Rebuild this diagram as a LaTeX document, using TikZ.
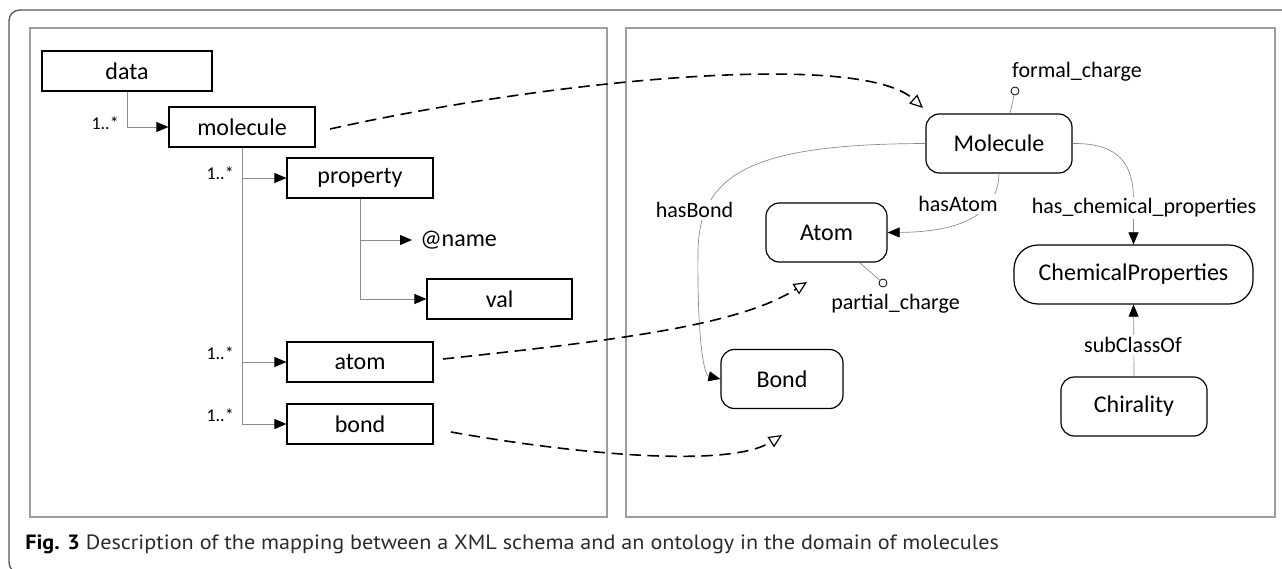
\documentclass[tikz,border=0pt]{standalone}
\usepackage{fontspec}
\setmainfont{Carlito}
\newfontfamily\capfont{PT Sans}
\usetikzlibrary{arrows.meta,calc}
\definecolor{conn}{HTML}{8C8C8C}
\definecolor{ogray}{HTML}{8A8A8A}
\definecolor{panelc}{HTML}{9E9E9E}
\definecolor{framec}{HTML}{555555}
\definecolor{captext}{HTML}{2B2B2B}
\begin{document}
\begin{tikzpicture}[x=0.75pt,y=-0.75pt,
  nodefont/.style={font=\fontsize{18}{21}\selectfont},
  xbox/.style={draw=black,line width=0.9pt,minimum width=109.5pt,minimum height=30pt,inner sep=0pt,nodefont},
  obox/.style={draw=black,line width=0.9pt,rounded corners=10pt,minimum height=44.25pt,inner sep=0pt,nodefont},
  mult/.style={inner sep=0pt,font=\fontsize{13.5}{16}\selectfont,anchor=east},
  tree/.style={draw=conn,line width=0.6pt,-{Triangle[length=9pt,width=7.5pt,color=black]}},
  oedge/.style={draw=ogray,line width=0.5pt,-{Triangle[length=9pt,width=7.5pt,color=black]}},
  oline/.style={draw=ogray,line width=0.5pt},
  elabel/.style={fill=white,inner sep=1.5pt,font=\fontsize{16.5}{19}\selectfont},
  plabel/.style={inner sep=0pt,font=\fontsize{16.5}{19}\selectfont},
  attr/.style={circle,draw=black,fill=white,line width=0.6pt,minimum size=6pt,inner sep=0pt},
  map/.style={draw=black,line width=1.2pt,dash pattern=on 8.5pt off 5pt,-{Triangle[open,length=10pt,width=9pt,line width=0.9pt]}},
  panel/.style={draw=panelc,line width=1pt}
]
\clip (0,0) rectangle (1282,568);
\fill[white] (0,0) rectangle (1282,568);
% outer frame and panels
\draw[draw=framec,line width=1pt,rounded corners=8pt] (9,10) rectangle (1300,573);
\draw[panel] (30,28) rectangle (607,517);
\draw[panel] (626,28) rectangle (1275,517);

% ---------- XML schema (left) ----------
\node[xbox,minimum width=127.5pt] (data) at (127,71) {data};
\node[xbox] (molecule) at (242,127) {molecule};
\node[xbox] (property) at (360,178) {property};
\node[xbox,minimum width=108.75pt] (val) at (499.5,299) {val};
\node[xbox] (atom) at (360,362) {atom};
\node[xbox] (bond) at (360,424) {bond};
\node[nodefont,anchor=west,inner xsep=6pt,inner ysep=0pt] (name) at (412,240) {@name};

\draw[tree] (data.south) |- (molecule.west);
\draw[tree] (molecule.south) |- (property.west);
\draw[tree] (molecule.south) |- (atom.west);
\draw[tree] (molecule.south) |- (bond.west);
\draw[tree] (property.south) |- (name.west);
\draw[tree] (property.south) |- (val.west);

\node[mult] (m1) at (119,123) {1..*};
\node[mult] (m2) at (234,173) {1..*};
\node[mult] (m3) at (234,353) {1..*};
\node[mult] (m4) at (234,415) {1..*};

% ---------- Ontology (right) ----------
\node[obox,minimum width=109.5pt] (Mol) at (999,143.5) {Molecule};
\node[obox,minimum width=90.75pt] (Atom) at (826.5,232.5) {Atom};
\node[obox,minimum width=91.5pt] (Bond) at (782,379) {Bond};
\node[obox,minimum width=179.25pt,rounded corners=18pt] (Chem) at (1133.5,274.5) {ChemicalProperties};
\node[obox,minimum width=109.5pt] (Chir) at (1134,406.5) {Chirality};

\node[attr] (fc) at (1015,91) {};
\node[attr] (pc) at (883,283) {};
\draw[oline] (fc) -- ($(Mol.north)+(11,0)$);
\draw[oline] (pc) -- ($(Atom.south)+(33,0)$);
\node[plabel] (fcl) at (1077,72) {formal\_charge};
\node[plabel] (pcl) at (895.5,304) {partial\_charge};

\draw[oedge] (Mol.west) .. controls (755,144) and (700,172) .. (698,250)
   .. controls (697,330) and (703,375) .. (Bond.west);
\draw[oedge] (Mol.south) .. controls (998,215) and (960,232) .. (Atom.east);
\draw[oedge] (Mol.east) .. controls (1120,143) and (1133.5,165) .. (1133.5,200) -- (Chem.north);
\draw[oedge] (Chir.north) -- (Chem.south);

\node[elabel] (lb) at (694.5,210) {hasBond};
\node[elabel] (la) at (958,204) {hasAtom};
\node[elabel] (lc) at (1144,208) {has\_chemical\_properties};
\node[elabel] (ls) at (1133,345) {subClassOf};

% ---------- mappings ----------
\coordinate (s1) at (330,129);
\coordinate (e1) at (923,108);
\coordinate (s2) at (443,359);
\coordinate (e2) at (807,282);
\coordinate (s3) at (451,432);
\coordinate (e3) at (782,435);
\draw[map] (s1) .. controls (550,80) and (860,50) .. (e1);
\draw[map] (s2) .. controls (620,340) and (740,325) .. (e2);
\draw[map] (s3) .. controls (580,455) and (730,468) .. (e3);

% ---------- caption ----------
\node[anchor=base west,inner sep=0pt,text=captext,font=\capfont\fontsize{15.5}{18}\selectfont] (cap) at (25,549)
  {\scalebox{1.073}[1]{\textcolor{black}{\textbf{Fig. 3}} Description of the mapping between a XML schema and an ontology in the domain of molecules}};
\end{tikzpicture}
\end{document}
